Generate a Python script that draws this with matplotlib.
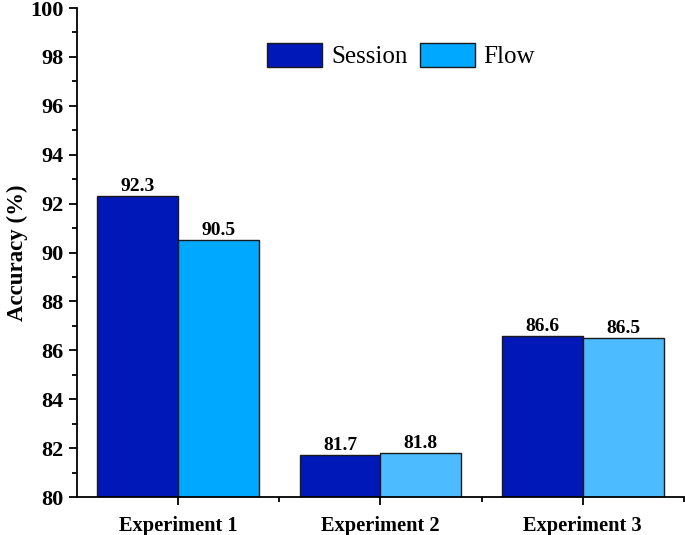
import numpy as np
import matplotlib.pyplot as plt
from matplotlib.ticker import MultipleLocator
from matplotlib.patches import Patch

plt.rcParams['font.family'] = ['Liberation Serif', 'DejaVu Serif']

experiments = ['Experiment 1', 'Experiment 2', 'Experiment 3']
session = [92.3, 81.7, 86.6]
flow = [90.5, 81.8, 86.5]

session_color = '#0018B8'
flow_colors = ['#00A8FF', '#4DBBFF', '#4DBBFF']

fig = plt.figure(figsize=(6.85, 5.35), dpi=100)
ax = fig.add_axes([0.1124, 0.071, 0.886, 0.914])

x = np.arange(1, len(experiments) + 1)
w = 0.4
ax.bar(x - w / 2, [v - 80 for v in session], w, bottom=80,
       color=session_color, edgecolor='#1a1a1a', linewidth=1.0)
ax.bar(x + w / 2, [v - 80 for v in flow], w, bottom=80,
       color=flow_colors, edgecolor='#1a1a1a', linewidth=1.0)

for xi, v in zip(x - w / 2, session):
    ax.text(xi, v + 0.04, '%.1f' % v, ha='center', va='bottom',
            fontsize=14, fontweight='bold')
for xi, v in zip(x + w / 2, flow):
    ax.text(xi, v + 0.04, '%.1f' % v, ha='center', va='bottom',
            fontsize=14, fontweight='bold')

ax.set_xlim(0.5, 3.5)
ax.set_ylim(80, 100)
ax.set_xticks(x)
ax.set_xticklabels(experiments, fontsize=14.7, fontweight='bold')
ax.set_xticks([1.5, 2.5, 3.5], minor=True)
ax.yaxis.set_major_locator(MultipleLocator(2))
ax.yaxis.set_minor_locator(MultipleLocator(1))
for lab in ax.get_yticklabels():
    lab.set_fontsize(16)
    lab.set_fontweight('bold')
ax.set_ylabel('Accuracy (%)', fontsize=16.5, fontweight='bold', labelpad=2)

ax.spines['top'].set_visible(False)
ax.spines['right'].set_visible(False)
ax.spines['left'].set_linewidth(1.3)
ax.spines['bottom'].set_linewidth(1.3)
ax.tick_params(axis='both', which='major', direction='out', length=6, width=1.3)
ax.tick_params(axis='both', which='minor', direction='out', length=3.5, width=1.3)
ax.tick_params(axis='x', pad=8)

handles = [Patch(facecolor=session_color, edgecolor='#1a1a1a', label='Session'),
           Patch(facecolor='#00A8FF', edgecolor='#1a1a1a', label='Flow')]
ax.legend(handles=handles, loc='upper center', bbox_to_anchor=(0.534, 0.975),
          ncol=2, frameon=False, fontsize=18, handlelength=2.2,
          handleheight=1.1, columnspacing=0.5, handletextpad=0.35)

fig.savefig('out.png', dpi=100)
